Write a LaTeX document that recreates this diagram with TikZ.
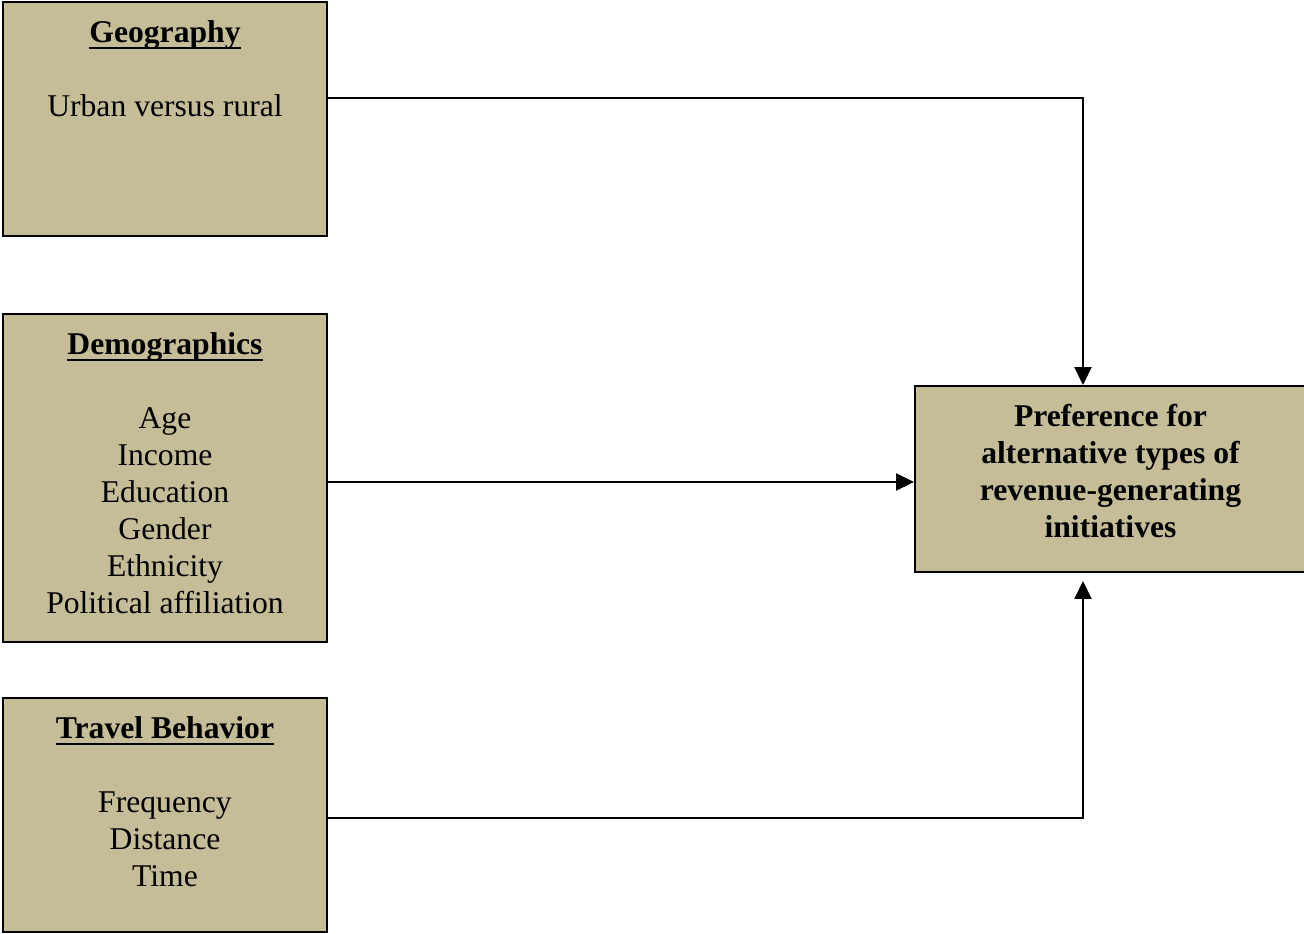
\documentclass[tikz,border=0pt]{standalone}
\usepackage{fontspec}
\setmainfont{Liberation Serif}
\usepackage{tikz}
\usetikzlibrary{arrows.meta}
\definecolor{boxtan}{RGB}{196,189,151}
\newcommand\headline[1]{\setbox0\hbox{\textbf{#1}}\rlap{\raisebox{-3.6pt}{\rule{\wd0}{1.4pt}}}\box0}

\begin{document}
\begin{tikzpicture}[
            line width=1.1pt,
            box/.style={draw, fill=boxtan, minimum width=6.48cm, minimum height=4.68cm, inner sep=0pt},
            boxtext/.style={anchor=north, align=center, inner sep=0pt, font=\fontsize{18}{21}\selectfont},
            link/.style={-{Triangle[length=0.36cm, width=0.34cm]}},
            ]
            \useasboundingbox (0,0) rectangle (26.08,-18.68);
            % factor boxes
            \node[box] (geo) at (3.3, -2.38) {};
            \node[box, minimum height=6.56cm] (demo) at (3.3, -9.56) {};
            \node[box] (travel) at (3.3, -16.3) {};
            \node[box, minimum width=7.82cm, minimum height=3.72cm] (pref) at (22.21, -9.58) {};
            % texts
            \node[boxtext, yshift=-0.38cm] (geotext) at (geo.north)
                {\headline{Geography}\\[21pt] Urban versus rural};
            \node[boxtext, yshift=-0.38cm] (demotext) at (demo.north)
                {\headline{Demographics}\\[21pt] Age\\ Income\\ Education\\ Gender\\ Ethnicity\\ Political affiliation};
            \node[boxtext, yshift=-0.38cm] (traveltext) at (travel.north)
                {\headline{Travel Behavior}\\[21pt] Frequency\\ Distance\\ Time};
            \node[boxtext, anchor=center, yshift=0.16cm, font=\fontsize{18}{21}\selectfont\bfseries] (preftext) at (pref.center)
                {Preference for\\ alternative types of\\ revenue-generating\\ initiatives};
            % connectors
            \draw[link] ([yshift=0.42cm]geo.east) -| ([xshift=-0.55cm]pref.north);
            \draw[link] ([yshift=-0.08cm]demo.east) -- ([yshift=-0.08cm]demo.east -| pref.west);
            \draw[link, shorten >=0.16cm] ([yshift=-0.06cm]travel.east) -| ([xshift=-0.55cm]pref.south);
        \end{tikzpicture}
\end{document}
